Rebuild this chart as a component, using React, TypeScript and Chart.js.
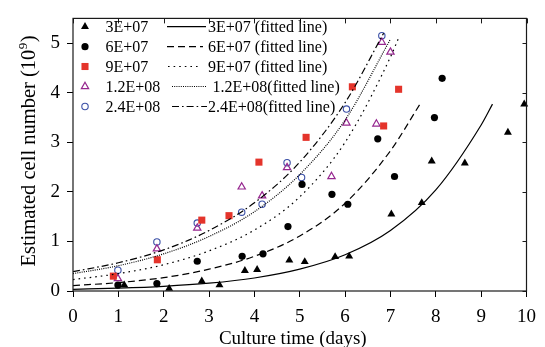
import React, { useEffect, useRef } from 'react';
import { Chart, registerables } from 'chart.js';

Chart.register(...registerables);

const FONT = "'Liberation Serif', 'Times New Roman', serif";

// ---- data ----
const xTickValues = [0, 1, 2, 3, 4, 5, 6, 7, 8, 9, 10];
const yTickValues = [0, 1, 2, 3, 4, 5];

const seriesLabels = ['3E+07', '6E+07', '9E+07', '1.2E+08', '2.4E+08'];
const fitLabels = [
  '3E+07 (fitted line)',
  '6E+07 (fitted line)',
  '9E+07 (fitted line)',
  '1.2E+08(fitted line)',
  '2.4E+08(fitted line)',
];

const s1X = [1.13, 2.12, 2.84, 3.23, 3.79, 4.06, 4.77, 5.11, 5.78, 6.09, 7.02, 7.69, 7.91, 8.64, 9.59, 9.95];
const s1Y = [0.12, 0.05, 0.2, 0.12, 0.41, 0.43, 0.62, 0.59, 0.69, 0.7, 1.55, 1.78, 2.62, 2.58, 3.2, 3.77];

const s2X = [0.99, 1.85, 2.74, 3.73, 4.19, 4.74, 5.05, 5.71, 6.06, 6.72, 7.09, 7.97, 8.14];
const s2Y = [0.12, 0.15, 0.6, 0.7, 0.75, 1.3, 2.15, 1.95, 1.75, 3.07, 2.31, 3.5, 4.29];

const s3X = [0.89, 1.86, 2.84, 3.44, 4.1, 5.14, 6.16, 6.85, 7.18];
const s3Y = [0.3, 0.63, 1.43, 1.52, 2.6, 3.1, 4.12, 3.33, 4.07];

const s4X = [0.99, 1.85, 2.74, 3.72, 4.17, 4.72, 5.7, 6.03, 6.69, 6.81, 7.0];
const s4Y = [0.25, 0.85, 1.27, 2.1, 1.92, 2.49, 2.31, 3.39, 3.37, 5.02, 4.82];

const s5X = [0.99, 1.85, 2.74, 3.72, 4.17, 4.72, 5.04, 6.03, 6.81];
const s5Y = [0.42, 0.99, 1.37, 1.59, 1.75, 2.59, 2.29, 3.67, 5.15];

const f1X = [0, 1, 2, 3, 4, 5, 6, 7, 8, 9, 9.25];
const f1Y = [0.034, 0.057, 0.094, 0.157, 0.262, 0.44, 0.73, 1.22, 2.04, 3.35, 3.77];

const f2X = [0, 1, 2, 3, 4, 5, 6, 7, 7.65];
const f2Y = [0.11, 0.17, 0.27, 0.44, 0.7, 1.11, 1.77, 2.83, 3.77];

const f3X = [0, 1, 2, 3, 4, 5, 6, 7, 7.2];
const f3Y = [0.23, 0.35, 0.53, 0.81, 1.23, 1.9, 3.0, 4.72, 5.15];

const f4X = [0, 1, 2, 3, 4, 5, 6, 7.0];
const f4Y = [0.35, 0.51, 0.75, 1.1, 1.6, 2.35, 3.45, 5.08];

const f5X = [0, 1, 2, 3, 4, 5, 6, 6.85];
const f5Y = [0.39, 0.57, 0.83, 1.22, 1.78, 2.6, 3.8, 5.2];

// ---- styles ----
const RED = '#e4342b';
const PURPLE = '#96278f';
const BLUE = '#3a4fa6';

const pointStyles = [
  { style: 'triangle', r: 4.6, fill: '#000', stroke: '#000', lw: 0 },
  { style: 'circle', r: 3.6, fill: '#000', stroke: '#000', lw: 0 },
  { style: 'rect', r: 5, fill: RED, stroke: RED, lw: 0 },
  { style: 'triangle', r: 4.2, fill: 'rgba(0,0,0,0)', stroke: PURPLE, lw: 1.2 },
  { style: 'circle', r: 3.2, fill: 'rgba(0,0,0,0)', stroke: BLUE, lw: 1.1 },
];
const lineDashes = [[], [7, 4], [1.6, 4], [1, 1.2], [7, 3, 1.6, 3]];

const toPts = (xs: number[], ys: number[]) => xs.map((x, i) => ({ x, y: ys[i] }));

function drawMarker(ctx: CanvasRenderingContext2D, st: any, x: number, y: number) {
  ctx.beginPath();
  const r = st.r;
  if (st.style === 'triangle') {
    let a = 0;
    ctx.moveTo(x + Math.sin(a) * r, y - Math.cos(a) * r);
    a += (2 * Math.PI) / 3;
    ctx.lineTo(x + Math.sin(a) * r, y - Math.cos(a) * r);
    a += (2 * Math.PI) / 3;
    ctx.lineTo(x + Math.sin(a) * r, y - Math.cos(a) * r);
    ctx.closePath();
  } else if (st.style === 'circle') {
    ctx.arc(x, y, r, 0, Math.PI * 2);
  } else {
    const s = r * Math.SQRT1_2;
    ctx.rect(x - s, y - s, 2 * s, 2 * s);
  }
  if (st.lw === 0) {
    ctx.fillStyle = st.fill;
    ctx.fill();
  } else {
    ctx.strokeStyle = st.stroke;
    ctx.lineWidth = st.lw;
    ctx.stroke();
  }
}

const decorPlugin = {
  id: 'decor',
  afterDraw(chart: any) {
    const { ctx, chartArea } = chart;
    const { left, right, top, bottom } = chartArea;
    const xs = chart.scales.x;
    const ys = chart.scales.y;
    ctx.save();
    // frame
    ctx.strokeStyle = '#1a1a1a';
    ctx.lineWidth = 1.2;
    ctx.setLineDash([]);
    ctx.strokeRect(left, top, right - left, bottom - top);
    // inward ticks top/right
    ctx.lineWidth = 1;
    ctx.beginPath();
    xTickValues.forEach((v) => {
      const px = Math.round(xs.getPixelForValue(v)) + 0.5;
      ctx.moveTo(px, top);
      ctx.lineTo(px, top + 5);
    });
    yTickValues.forEach((v) => {
      const py = Math.round(ys.getPixelForValue(v)) + 0.5;
      ctx.moveTo(right, py);
      ctx.lineTo(right - 4, py);
    });
    ctx.stroke();

    // x title
    ctx.fillStyle = '#000';
    ctx.font = `19px ${FONT}`;
    ctx.textAlign = 'center';
    ctx.textBaseline = 'alphabetic';
    ctx.fillText('Culture time (days)', (left + right) / 2 - 7, 344);

    // y title with superscript
    const main = 'Estimated cell number (10';
    const sup = '9';
    const close = ')';
    ctx.save();
    ctx.translate(35, 151);
    ctx.rotate(-Math.PI / 2);
    ctx.textAlign = 'left';
    ctx.font = `20.5px ${FONT}`;
    const w1 = ctx.measureText(main).width;
    const w3 = ctx.measureText(close).width;
    ctx.font = `13px ${FONT}`;
    const w2 = ctx.measureText(sup).width;
    const total = w1 + w2 + w3 + 1;
    let x0 = -total / 2;
    ctx.font = `20.5px ${FONT}`;
    ctx.fillText(main, x0, 0);
    ctx.font = `13px ${FONT}`;
    ctx.fillText(sup, x0 + w1 + 0.5, -8);
    ctx.font = `20.5px ${FONT}`;
    ctx.fillText(close, x0 + w1 + w2 + 1, 0);
    ctx.restore();

    // legend
    ctx.font = `16px ${FONT}`;
    ctx.textAlign = 'left';
    ctx.textBaseline = 'middle';
    const rowY = [26.7, 46.7, 66.5, 86.5, 106.5];
    const lineStart = [167, 167, 168, 172, 172];
    const lineEnd = [206, 203, 201, 207, 207];
    const fitTextX = [208, 208, 208, 212.5, 208];
    for (let i = 0; i < 5; i++) {
      const y = rowY[i];
      drawMarker(ctx, pointStyles[i], 85, y);
      ctx.fillStyle = '#000';
      ctx.fillText(seriesLabels[i], 105.5, y + 1);
      ctx.beginPath();
      ctx.strokeStyle = '#000';
      ctx.lineWidth = 1.2;
      ctx.setLineDash(lineDashes[i]);
      ctx.moveTo(lineStart[i], y);
      ctx.lineTo(lineEnd[i], y);
      ctx.stroke();
      ctx.setLineDash([]);
      ctx.fillText(fitLabels[i], fitTextX[i], y + 1);
    }
    ctx.restore();
  },
};

export default function App() {
  const ref = useRef<HTMLCanvasElement | null>(null);
  useEffect(() => {
    if (!ref.current) return;
    Chart.defaults.font.family = FONT;
    const pointSets = [
      [s1X, s1Y],
      [s2X, s2Y],
      [s3X, s3Y],
      [s4X, s4Y],
      [s5X, s5Y],
    ];
    const fitSets = [
      [f1X, f1Y],
      [f2X, f2Y],
      [f3X, f3Y],
      [f4X, f4Y],
      [f5X, f5Y],
    ];
    const datasets: any[] = [];
    fitSets.forEach(([xs, ys], i) => {
      datasets.push({
        label: fitLabels[i],
        data: toPts(xs, ys),
        showLine: true,
        pointRadius: 0,
        borderColor: '#000',
        borderWidth: 1.2,
        borderDash: lineDashes[i],
        cubicInterpolationMode: 'monotone',
        fill: false,
        clip: false,
      });
    });
    pointSets.forEach(([xs, ys], i) => {
      const st = pointStyles[i];
      datasets.push({
        label: seriesLabels[i],
        data: toPts(xs, ys),
        showLine: false,
        pointStyle: st.style,
        pointRadius: st.r,
        pointBackgroundColor: st.fill,
        pointBorderColor: st.stroke,
        pointBorderWidth: st.lw,
        backgroundColor: st.fill,
        borderColor: st.stroke,
        clip: false,
      });
    });

    const chart = new Chart(ref.current, {
      type: 'scatter',
      data: { datasets },
      options: {
        animation: false,
        responsive: false,
        devicePixelRatio: 1,
        layout: { padding: { top: 15, right: 16, left: 0, bottom: 0 } },
        plugins: { legend: { display: false }, tooltip: { enabled: false } },
        scales: {
          x: {
            type: 'linear',
            min: 0,
            max: 10,
            afterBuildTicks: (s: any) => {
              s.ticks = xTickValues.map((v) => ({ value: v }));
            },
            afterFit: (s: any) => {
              s.height = 56;
            },
            ticks: {
              stepSize: 1,
              color: '#000',
              font: { size: 19, family: FONT },
              padding: 9,
              maxRotation: 0,
              autoSkip: false,
            },
            grid: {
              display: true,
              drawOnChartArea: false,
              drawTicks: true,
              tickLength: 6,
              color: '#000',
              lineWidth: 1,
            },
            border: { display: false },
          },
          y: {
            type: 'linear',
            min: 0,
            max: 5.5,
            afterBuildTicks: (s: any) => {
              s.ticks = yTickValues.map((v) => ({ value: v }));
            },
            afterFit: (s: any) => {
              s.width = 73;
            },
            ticks: {
              stepSize: 1,
              color: '#000',
              font: { size: 19, family: FONT },
              padding: 7,
            },
            grid: {
              display: true,
              drawOnChartArea: false,
              drawTicks: true,
              tickLength: 6,
              color: '#000',
              lineWidth: 1,
            },
            border: { display: false },
          },
        },
      },
      plugins: [decorPlugin],
    });
    return () => chart.destroy();
  }, []);

  return (
    <div style={{ position: 'fixed', left: 0, top: 0, width: 545, height: 347, background: '#fff' }}>
      <canvas ref={ref} width={545} height={347} style={{ width: 545, height: 347, display: 'block' }} />
    </div>
  );
}
